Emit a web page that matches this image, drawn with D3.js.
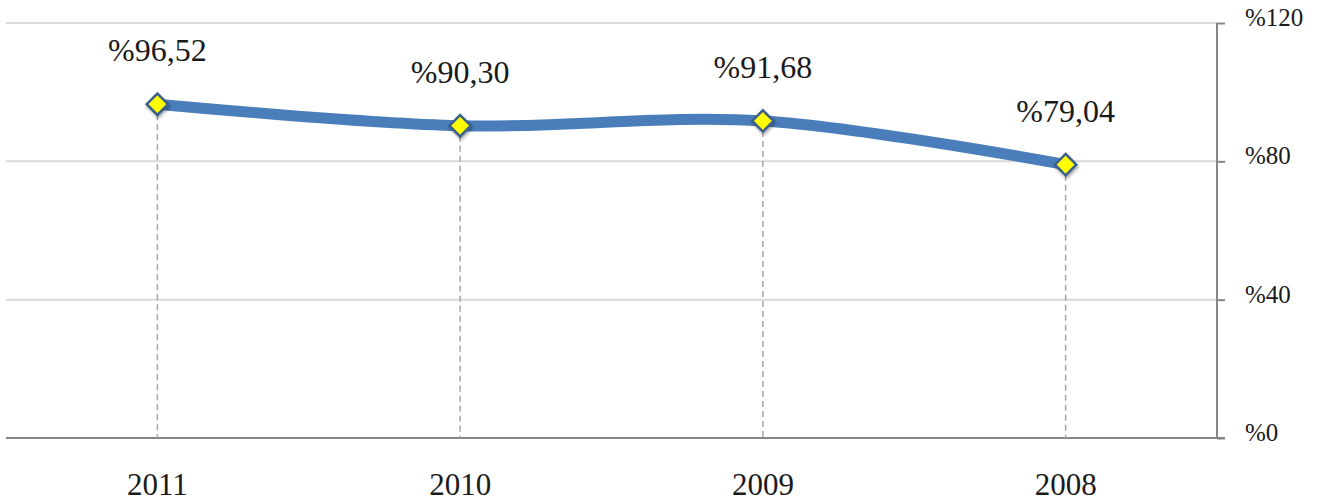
<!DOCTYPE html>
<html>
<head>
<meta charset="utf-8">
<script src="https://cdn.jsdelivr.net/npm/d3@7"></script>
<style>
  body { margin: 0; background: #fff; }
  svg text { font-family: "Liberation Serif", "DejaVu Serif", serif; fill: #1a1a1a; }
</style>
</head>
<body>
<div id="chart"></div>
<script>
// chart data
const years = ["2011", "2010", "2009", "2008"];
const values = [96.52, 90.30, 91.68, 79.04];
const labels = ["%96,52", "%90,30", "%91,68", "%79,04"];
const yTicks = [0, 40, 80, 120];

const width = 1317;
const height = 503;
const plotLeft = 6, plotRight = 1217, plotTop = 23, plotBottom = 438;

const svg = d3.select("#chart").append("svg")
    .attr("width", width)
    .attr("height", height);

const defs = svg.append("defs");
const shadow = defs.append("filter")
    .attr("id", "shadow")
    .attr("x", "-50%").attr("y", "-50%")
    .attr("width", "200%").attr("height", "200%");
shadow.append("feDropShadow")
    .attr("dx", 1).attr("dy", 2)
    .attr("stdDeviation", 1.5)
    .attr("flood-color", "#000")
    .attr("flood-opacity", 0.35);

const x = d3.scaleBand()
    .domain(years)
    .range([plotLeft, plotRight]);

const y = d3.scaleLinear()
    .domain([0, 120])
    .range([plotBottom, plotTop]);

const cx = d => x(d) + x.bandwidth() / 2;

// gridlines
svg.selectAll(".grid")
    .data(yTicks.filter(t => t > 0))
    .enter().append("line")
    .attr("x1", plotLeft)
    .attr("x2", plotRight)
    .attr("y1", d => y(d))
    .attr("y2", d => y(d))
    .attr("stroke", "#d9d9d9")
    .attr("stroke-width", 2);

// right axis
const yAxis = d3.axisRight(y)
    .tickValues(yTicks)
    .tickSize(8)
    .tickFormat(d => "%" + d);

const ag = svg.append("g")
    .attr("transform", `translate(${plotRight},0)`)
    .call(yAxis);
ag.select(".domain").attr("stroke", "#868686").attr("stroke-width", 2)
    .attr("d", `M0,${plotTop}V${plotBottom}`);
ag.selectAll(".tick line").attr("stroke", "#868686").attr("stroke-width", 2);
ag.selectAll(".tick text")
    .attr("x", 28)
    .attr("dy", "0.1em")
    .style("font-size", "25px")
    .style("font-family", "Liberation Serif, serif")
    .attr("fill", "#1a1a1a");

// bottom axis line
svg.append("line")
    .attr("x1", plotLeft)
    .attr("x2", plotRight + 8)
    .attr("y1", plotBottom)
    .attr("y2", plotBottom)
    .attr("stroke", "#868686")
    .attr("stroke-width", 2);

// year labels
svg.selectAll(".year")
    .data(years)
    .enter().append("text")
    .attr("x", d => cx(d))
    .attr("y", 495)
    .attr("text-anchor", "middle")
    .style("font-size", "31px")
    .text(d => d);

// drop lines
svg.selectAll(".drop")
    .data(years)
    .enter().append("line")
    .attr("x1", d => cx(d))
    .attr("x2", d => cx(d))
    .attr("y1", (d, i) => y(values[i]))
    .attr("y2", plotBottom)
    .attr("stroke", "#a6a6a6")
    .attr("stroke-width", 1.5)
    .attr("stroke-dasharray", "6,4");

// smoothed line
const line = d3.line()
    .x((d, i) => cx(years[i]))
    .y(d => y(d))
    .curve(d3.curveCatmullRom.alpha(0.5));

svg.append("path")
    .datum(values)
    .attr("d", line)
    .attr("fill", "none")
    .attr("stroke", "#4a7ebb")
    .attr("stroke-width", 11)
    .attr("stroke-linecap", "round");

// markers
svg.selectAll(".marker")
    .data(values)
    .enter().append("path")
    .attr("d", d3.symbol().type(d3.symbolDiamond2).size(290))
    .attr("transform", (d, i) => `translate(${cx(years[i])},${y(d)})`)
    .attr("fill", "#ffff00")
    .attr("stroke", "#3b5f8a")
    .attr("stroke-width", 2.5)
    .attr("filter", "url(#shadow)");

// data labels
svg.selectAll(".label")
    .data(values)
    .enter().append("text")
    .attr("x", (d, i) => cx(years[i]))
    .attr("y", d => y(d) - 43)
    .attr("text-anchor", "middle")
    .style("font-size", "32px")
    .text((d, i) => labels[i]);
</script>
</body>
</html>
